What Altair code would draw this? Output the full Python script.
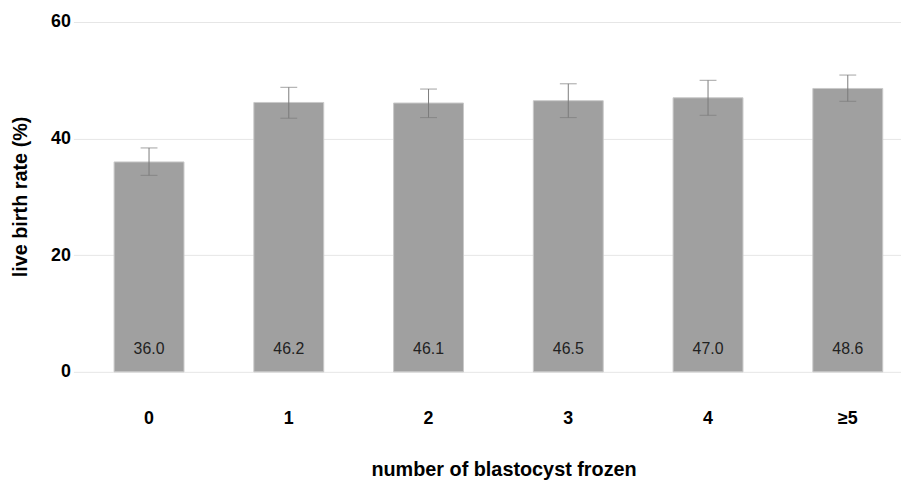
import altair as alt
import pandas as pd

categories = ["0", "1", "2", "3", "4", "≥5"]
rates = [36.0, 46.2, 46.1, 46.5, 47.0, 48.6]
lower = [33.7, 43.5, 43.6, 43.6, 44.0, 46.4]
upper = [38.4, 48.8, 48.5, 49.4, 50.0, 50.9]
labels = ["36.0", "46.2", "46.1", "46.5", "47.0", "48.6"]

df = pd.DataFrame({"cat": categories, "rate": rates, "lo": lower, "hi": upper, "label": labels})

W, H = 835, 353
FONT = "Liberation Sans"

xscale = alt.Scale(domain=categories, paddingInner=0.5, paddingOuter=0.211, align=0.69)
yscale = alt.Scale(domain=[0, 60], nice=False)

x_enc = alt.X("cat:N", scale=xscale, sort=categories, title="number of blastocyst frozen",
              axis=alt.Axis(labelAngle=0, labelFontSize=18, labelFontWeight="bold", labelColor="#000",
                            labelPadding=38, ticks=False, tickSize=0, domain=False, grid=False,
                            titleFontSize=20, titleFontWeight="bold", titleColor="#000",
                            titleX=434, titleY=99, titleAlign="center", titleBaseline="middle"))
y_enc = alt.Y("rate:Q", scale=yscale, title="live birth rate (%)",
              axis=alt.Axis(values=[0, 20, 40, 60], labelFontSize=18, labelFontWeight="bold", labelColor="#000",
                            labelPadding=3, ticks=False, tickSize=0, domain=False, grid=True,
                            gridColor="#e6e6e6", gridWidth=1,
                            titleFontSize=20, titleFontWeight="bold", titleColor="#000",
                            titleAngle=270, titleX=-53, titleY=176, titleAlign="center", titleBaseline="middle"))

base = alt.Chart(df)

bars = base.mark_bar(color="#a0a0a0", stroke="#c8c8c8", strokeWidth=1).encode(x=x_enc, y=y_enc)

rules = base.mark_rule(color="#7a7a7a", strokeWidth=1).encode(
    x=alt.X("cat:N", scale=xscale, sort=categories),
    y=alt.Y("lo:Q", scale=yscale),
    y2="hi:Q",
)
caps_hi = base.mark_tick(color="#7a7a7a", size=17, thickness=1, orient="horizontal").encode(
    x=alt.X("cat:N", scale=xscale, sort=categories),
    y=alt.Y("hi:Q", scale=yscale),
)
caps_lo = base.mark_tick(color="#7a7a7a", size=17, thickness=1, orient="horizontal").encode(
    x=alt.X("cat:N", scale=xscale, sort=categories),
    y=alt.Y("lo:Q", scale=yscale),
)
texts = base.mark_text(fontSize=16, color="#222", baseline="middle", font=FONT).encode(
    x=alt.X("cat:N", scale=xscale, sort=categories),
    y=alt.value(330),
    text="label:N",
)

chart = alt.layer(bars, rules, caps_hi, caps_lo, texts).properties(
    width=W, height=H,
    autosize=alt.AutoSizeParams(type="none"),
    padding={"left": 66, "top": 12, "right": 0, "bottom": 107},
).configure(font=FONT).configure_view(stroke=None)

chart.save("out.html", embed_options={"renderer": "svg", "actions": False})
